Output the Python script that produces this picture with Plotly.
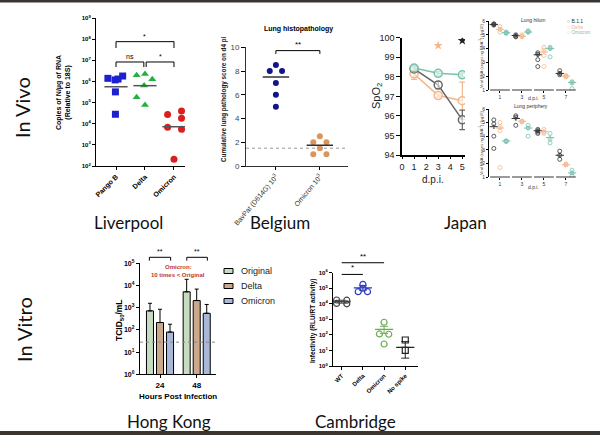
import numpy as np
import plotly.graph_objects as go

W, H = 600, 435

# ---------------- data ----------------
# Liverpool - copies of N/ug RNA (relative to 18S)
liv_categories = ["Pango B", "Delta", "Omicron"]
liv_pango_b = [1.4e6, 1.18e6, 1.3e6, 1.8e6, 3.2e5, 2.8e4]
liv_delta = [1.95e6, 2.24e6, 1.26e6, 6.5e5, 1.78e5, 7.6e4]
liv_omicron = [2.75e4, 4.0e4, 1.8e4, 6.8e3, 5.4e3, 2.1e2]
liv_medians = [5.6e5, 6.3e5, 7.2e3]
liv_pango_b_jitter = [-0.28, -0.03, 0.07, 0.23, -0.02, -0.02]
liv_delta_jitter = [-0.29, 0.0, 0.25, -0.03, -0.29, 0.0]
liv_omicron_jitter = [-0.22, 0.26, 0.26, -0.22, 0.26, 0.0]
liv_tests = [(0, 0.96, 8.3e6, 4.8e6, "ns"), (1.04, 2, 8.3e6, 4.8e6, "*"), (0, 2, 7.6e7, 3.8e7, "*")]

# Belgium - lung histopathology score
bel_categories = ["BavPat (D614G) 10<sup>3</sup>", "Omicron 10<sup>3</sup>"]
bel_bavpat = [8.5, 8, 8, 7, 6, 5]
bel_omicron = [2.5, 2, 2, 1.5, 1, 1]
bel_bavpat_jitter = [0, -0.14, 0.14, 0, 0, 0]
bel_omicron_jitter = [0, -0.15, 0.15, 0, -0.15, 0.15]
bel_medians = [7.5, 1.75]
bel_limit = 1.5
bel_tests = [(0, 1, 9.72, 9.44, "**")]

# Japan - SpO2
jp_days = [1, 3, 5]
jp_spo2_b11 = [98.4, 97.58, 95.8]
jp_spo2_b11_sem = [0.12, 0.18, 0.5]
jp_spo2_delta = [98.15, 97.04, 96.78]
jp_spo2_delta_sem = [0.28, 0.08, 0.95]
jp_spo2_omicron = [98.45, 98.18, 98.1]
jp_spo2_omicron_sem = [0.15, 0.1, 0.1]
jp_spo2_sig_days = [3, 5]
jp_spo2_sig_levels = [99.6, 99.85]

# Japan - viral RNA (log10), days 1,3,5,7
jp_rna_days = ["1", "3", "5", "7"]
jp_variants = ["B.1.1", "Delta", "Omicron"]
jp_hilum_b11 = [[5.8, 5.75, 5.7], [5.0, 4.9, 4.85], [3.7, 3.6, 3.2, 2.7], [2.4, 2.2, 2.1]]
jp_hilum_delta = [[5.6, 5.4, 5.2], [5.0, 4.9, 4.85], [4.1, 3.9, 3.5, 2.7], [2.05, 2.0, 1.95]]
jp_hilum_omicron = [[5.2, 5.15, 5.1], [5.3, 5.2, 5.2], [4.1, 4.0, 3.4], [1.6, 1.5, 1.1]]
jp_hilum_means = [[5.75, 4.95, 3.55, 2.2], [5.4, 4.9, 3.75, 2.0], [5.15, 5.2, 4.0, 1.55]]
jp_periph_b11 = [[5.2, 4.9, 4.0, 3.1], [5.5, 5.4, 4.8], [4.5, 4.4, 4.3, 4.2], [2.9, 2.6, 2.3]]
jp_periph_delta = [[5.0, 4.7, 4.4, 1.7], [5.1, 5.1, 5.05], [4.5, 4.3, 4.2], [1.95, 1.9, 1.9]]
jp_periph_omicron = [[3.65, 3.65, 3.6], [4.8, 4.6, 4.0], [4.2, 3.8, 3.5], [1.5, 1.3, 1.1]]
jp_periph_means = [[4.7, 5.3, 4.4, 2.6], [4.6, 5.1, 4.35, 1.9], [3.65, 4.6, 3.9, 1.3]]

# Hong Kong - TCID50/mL
hk_hours = ["24", "48"]
hk_series = ["Original", "Delta", "Omicron"]
hk_original = [720, 5200]
hk_delta = [215, 2100]
hk_omicron = [80, 560]
hk_original_upper = [1580, 19000]
hk_delta_upper = [850, 6900]
hk_omicron_upper = [180, 1400]
hk_limit = 28
hk_tests = [(-0.29, 0.29, 10**5.27, 10**5.12, "**"), (0.73, 1.29, 10**5.27, 10**5.12, "**")]

# Cambridge - infectivity (RLU/RT activity)
cam_categories = ["WT", "Delta", "Omicron", "No spike"]
cam_wt = [1.75e4, 1.7e4, 1.05e4, 1.0e4]
cam_delta = [1.8e5, 1.0e5, 6.0e4, 6.0e4]
cam_omicron = [6.5e2, 1.15e2, 1.1e2, 2.6e1]
cam_nospike = [4.7e1, 1.0e1]
cam_wt_jitter = [-0.24, 0.24, -0.24, 0.24]
cam_delta_jitter = [0.0, 0.0, -0.22, 0.22]
cam_omicron_jitter = [0.0, -0.22, 0.22, 0.0]
cam_nospike_jitter = [0.0, 0.0]
cam_means = [1.4e4, 1.05e5, 2.3e2, 1.6e1]
cam_err_plus = [3e3, 4e4, 1.3e2, 2.1e1]
cam_err_minus = [3e3, 3e4, 1.05e2, 1.28e1]
cam_tests = [(0, 1, 10**5.89, None, "*"), (0, 2, 10**6.64, None, "**")]

# ---------------- helpers ----------------
AXF = "Liberation Sans, Arial, sans-serif"
BIGF = "Lato, Noto Sans, sans-serif"


def xd(a, b):
    return [a / W, b / W]


def yd(top, bottom):
    return [1 - bottom / H, 1 - top / H]


def px(x):
    return x / W


def py(y):
    return 1 - y / H


def axis(domain, anchor, **kw):
    d = dict(domain=domain, anchor=anchor, showline=True, linecolor="black", linewidth=1,
             ticks="outside", ticklen=3, tickwidth=1, tickcolor="black", automargin=False,
             showgrid=False, zeroline=False, fixedrange=True)
    d.update(kw)
    return d


def logticks(lo, hi):
    return [10 ** k for k in range(lo, hi + 1)], ["10<sup>%d</sup>" % k for k in range(lo, hi + 1)]


fig = go.Figure()
shapes = []
annotations = []


def frac(v, rng, log):
    val = np.log10(v) if log else v
    return (val - rng[0]) / (rng[1] - rng[0])


def add_tests(tests, xa, ya, rng, log, size):
    for x0, x1, top, leg, label in tests:
        t = frac(top, rng, log)
        if leg is None:
            path = f"M {x0},{t} L {x1},{t}"
        else:
            l = frac(leg, rng, log)
            path = f"M {x0},{l} L {x0},{t} L {x1},{t} L {x1},{l}"
        shapes.append(dict(type="path", path=path, xref=xa, yref=ya + " domain",
                           line=dict(color="black", width=1)))
        annotations.append(dict(x=(x0 + x1) / 2, y=t, xref=xa, yref=ya + " domain",
                                text=label, showarrow=False, yanchor="bottom", yshift=0,
                                font=dict(size=size, family=AXF, color="black")))


def text(t, x, y, size, family=AXF, color="black", angle=0, xanchor="center", yanchor="middle"):
    annotations.append(dict(x=px(x), y=py(y), xref="paper", yref="paper", text=t, showarrow=False,
                            textangle=angle, xanchor=xanchor, yanchor=yanchor,
                            font=dict(size=size, family=family, color=color)))


# ---------------- Liverpool ----------------
LIV_YR = [2, 9]
for i, (vals, jit, sym, col) in enumerate([
        (liv_pango_b, liv_pango_b_jitter, "square", "#1c20d0"),
        (liv_delta, liv_delta_jitter, "triangle-up", "#25b040"),
        (liv_omicron, liv_omicron_jitter, "circle", "#d82020")]):
    fig.add_trace(go.Scatter(x=[i + j for j in jit], y=vals, mode="markers", xaxis="x", yaxis="y",
                             marker=dict(symbol=sym, size=7, color=col), showlegend=False))
for i, m in enumerate(liv_medians):
    fig.add_trace(go.Scatter(x=[i - 0.4, i + 0.4], y=[m, m], mode="lines", xaxis="x", yaxis="y",
                             line=dict(color="#555", width=1.5), showlegend=False))
add_tests(liv_tests, "x", "y", LIV_YR, True, 7)

# ---------------- Belgium ----------------
BEL_YR = [0, 10]
BEL_XR = [-0.68, 1.64]
fig.add_trace(go.Scatter(x=BEL_XR, y=[bel_limit, bel_limit], mode="lines", xaxis="x2", yaxis="y2",
                         line=dict(color="#999", width=1, dash="dot"), showlegend=False))
for i, (vals, jit, col) in enumerate([(bel_bavpat, bel_bavpat_jitter, "#14148a"),
                                      (bel_omicron, bel_omicron_jitter, "#d9955a")]):
    fig.add_trace(go.Scatter(x=[i + j for j in jit], y=vals, mode="markers", xaxis="x2", yaxis="y2",
                             marker=dict(size=6, color=col), showlegend=False))
for i, m in enumerate(bel_medians):
    fig.add_trace(go.Scatter(x=[i - 0.3, i + 0.3], y=[m, m], mode="lines", xaxis="x2", yaxis="y2",
                             line=dict(color="#333", width=1.3), showlegend=False))
add_tests(bel_tests, "x2", "y2", BEL_YR, False, 8)

# ---------------- Japan SpO2 ----------------
jp_colors = {"B.1.1": "#666666", "Delta": "#f4b78a", "Omicron": "#79c2ad"}
for name, vals, sem in [("Delta", jp_spo2_delta, jp_spo2_delta_sem),
                        ("B.1.1", jp_spo2_b11, jp_spo2_b11_sem),
                        ("Omicron", jp_spo2_omicron, jp_spo2_omicron_sem)]:
    c = jp_colors[name]
    fig.add_trace(go.Scatter(x=jp_days, y=vals, mode="lines+markers", xaxis="x3", yaxis="y3",
                             line=dict(color=c, width=1.5),
                             marker=dict(symbol="circle", size=8, color="rgba(255,255,255,0.55)",
                                         line=dict(color=c, width=1.5)),
                             error_y=dict(type="data", array=sem, color=c, thickness=1.2, width=3),
                             showlegend=False))
fig.add_trace(go.Scatter(x=jp_spo2_sig_days, y=jp_spo2_sig_levels, mode="markers", xaxis="x3", yaxis="y3",
                         marker=dict(symbol="star", size=7, color=[jp_colors["Delta"], "#222"]),
                         showlegend=False))

# ---------------- Japan viral RNA ----------------
offs = [-0.28, 0.0, 0.28]
for xa, ya, groups, means in [("x4", "y4", [jp_hilum_b11, jp_hilum_delta, jp_hilum_omicron], jp_hilum_means),
                              ("x5", "y5", [jp_periph_b11, jp_periph_delta, jp_periph_omicron], jp_periph_means)]:
    for k, (name, grp) in enumerate(zip(jp_variants, groups)):
        c = "#333333" if name == "B.1.1" else jp_colors[name]
        xs, ys = [], []
        for d, pts in enumerate(grp):
            xs += [d + offs[k]] * len(pts)
            ys += pts
        fig.add_trace(go.Scatter(x=xs, y=ys, mode="markers", xaxis=xa, yaxis=ya,
                                 marker=dict(symbol="circle-open", size=4, color=c, line=dict(width=0.8)),
                                 showlegend=False))
        fig.add_trace(go.Scatter(x=[d + offs[k] for d in range(4)], y=means[k], mode="markers",
                                 xaxis=xa, yaxis=ya,
                                 marker=dict(symbol="line-ew", size=6, color=c, line=dict(width=1, color=c)),
                                 error_y=dict(type="data", array=[0.12] * 4, color=c, thickness=0.7, width=1),
                                 showlegend=False))
    for d in range(4):
        shapes.append(dict(type="line", xref=xa, yref=ya + " domain", x0=d - 0.45, x1=d + 0.45, y0=0, y1=0,
                           line=dict(color="black", width=0.8)))

# ---------------- Hong Kong ----------------
HK_YR = [0, 5]
HK_XR = [-0.545, 1.526]
hk_colors = ["#c6dcc0", "#cba98a", "#a9b7d8"]
for name, vals, up, col in zip(hk_series, [hk_original, hk_delta, hk_omicron],
                               [hk_original_upper, hk_delta_upper, hk_omicron_upper], hk_colors):
    fig.add_trace(go.Bar(x=[0, 1], y=vals, name=name, xaxis="x6", yaxis="y6",
                         marker=dict(color=col, line=dict(color="black", width=1)),
                         error_y=dict(type="data", symmetric=False, array=[u - v for u, v in zip(up, vals)],
                                      arrayminus=[0, 0], color="black", thickness=1, width=2),
                         showlegend=False))
fig.add_trace(go.Scatter(x=HK_XR, y=[hk_limit, hk_limit], mode="lines", xaxis="x6", yaxis="y6",
                         line=dict(color="#888", width=1, dash="dot"), showlegend=False))
add_tests(hk_tests, "x6", "y6", HK_YR, True, 7)
for i, (name, col) in enumerate(zip(hk_series, hk_colors)):
    yrow = 271 + 15 * i
    shapes.append(dict(type="rect", xref="paper", yref="paper", x0=px(224), x1=px(233),
                       y0=py(yrow + 2.5), y1=py(yrow - 2.5), fillcolor=col, line=dict(color="black", width=1)))
    text(name, 239, yrow, 9, xanchor="left", color="#222")

# ---------------- Cambridge ----------------
CAM_YR = [0, 6]
for i, (vals, jit, sym, col) in enumerate([
        (cam_wt, cam_wt_jitter, "circle-open", "#444444"),
        (cam_delta, cam_delta_jitter, "circle-open", "#2e38c0"),
        (cam_omicron, cam_omicron_jitter, "circle-open", "#6aae4c"),
        (cam_nospike, cam_nospike_jitter, "square-open", "#222222")]):
    fig.add_trace(go.Scatter(x=[i + j for j in jit], y=vals, mode="markers", xaxis="x7", yaxis="y7",
                             marker=dict(symbol=sym, size=6, color=col, line=dict(width=1.2)),
                             showlegend=False))
    fig.add_trace(go.Scatter(x=[i], y=[cam_means[i]], mode="markers", xaxis="x7", yaxis="y7",
                             marker=dict(symbol="line-ew-open", size=13, color=col, line=dict(width=1.3, color=col)),
                             error_y=dict(type="data", symmetric=False, array=[cam_err_plus[i]],
                                          arrayminus=[cam_err_minus[i]], color=col, thickness=1, width=4),
                             showlegend=False))
add_tests(cam_tests, "x7", "y7", CAM_YR, True, 8)

# ---------------- layout ----------------
ltv, ltt = logticks(2, 9)
htv, htt = logticks(0, 5)
ctv, ctt = logticks(0, 6)
small_b = dict(size=6, family=AXF, color="black", weight="bold")
fig.update_layout(
    template="none",
    width=W, height=H, margin=dict(l=0, r=0, t=0, b=0, pad=0), autosize=False,
    paper_bgcolor="white", plot_bgcolor="rgba(0,0,0,0)", showlegend=False,
    barmode="group", bargap=0.18, bargroupgap=0.3,
    xaxis=axis(xd(96, 185), "y", range=[-0.69, 2.38], tickvals=[0, 1, 2],
               ticktext=["<b>%s</b>" % c for c in liv_categories], tickangle=-45,
               tickfont=dict(size=7, family=AXF, color="black")),
    yaxis=axis(yd(18, 166), "x", type="log", range=LIV_YR, tickvals=ltv, ticktext=ltt, tickfont=small_b),
    xaxis2=axis(xd(246, 348), "y2", range=BEL_XR, tickvals=[0, 1], ticktext=bel_categories, tickangle=-50,
                tickfont=dict(size=7, family=AXF, color="#333"), linecolor="#333"),
    yaxis2=axis(yd(47.3, 166), "x2", range=BEL_YR, dtick=2, tickfont=dict(size=8, family=AXF, color="#444"),
                linecolor="#333", ticklen=4),
    xaxis3=axis(xd(402, 465), "y3", range=[0, 5.22], dtick=1, linewidth=1.5, ticklen=2,
                tickfont=dict(size=9, family=AXF, color="#222")),
    yaxis3=axis(yd(37.7, 155), "x3", range=[94, 100], dtick=1, linewidth=1.5, ticklen=4,
                tickfont=dict(size=9, family=AXF, color="#222")),
    xaxis4=axis(xd(489, 578), "y4", range=[-0.5, 3.55], tickvals=[0, 1, 2, 3], ticktext=jp_rna_days,
                showline=False, ticklen=2, tickwidth=0.8, tickfont=dict(size=5, family=AXF, color="#333")),
    yaxis4=axis(yd(21, 90), "x4", range=[1, 6], dtick=1, linewidth=0.8, ticklen=2, tickwidth=0.8,
                tickfont=dict(size=5, family=AXF, color="#333")),
    xaxis5=axis(xd(489, 578), "y5", range=[-0.5, 3.55], tickvals=[0, 1, 2, 3], ticktext=jp_rna_days,
                showline=False, ticklen=2, tickwidth=0.8, tickfont=dict(size=5, family=AXF, color="#333")),
    yaxis5=axis(yd(109, 177), "x5", range=[1, 6], dtick=1, linewidth=0.8, ticklen=2, tickwidth=0.8,
                tickfont=dict(size=5, family=AXF, color="#333")),
    xaxis6=axis(xd(140, 216), "y6", range=HK_XR, tickvals=[0, 1], ticktext=["<b>%s</b>" % h for h in hk_hours],
                tickfont=dict(size=8, family=AXF, color="black"), linewidth=1.2),
    yaxis6=axis(yd(263.3, 374.3), "x6", type="log", range=HK_YR, tickvals=htv, ticktext=htt,
                tickfont=dict(size=7, family=AXF, color="black", weight="bold"), linewidth=1.2),
    xaxis7=axis(xd(333, 418), "y7", range=[-0.41, 3.6], tickvals=[0, 1, 2, 3],
                ticktext=["<b>%s</b>" % c for c in cam_categories], tickangle=-45,
                tickfont=dict(size=6, family=AXF, color="black")),
    yaxis7=axis(yd(272.7, 366), "x7", type="log", range=CAM_YR, tickvals=ctv, ticktext=ctt, tickfont=small_b),
)

# axis titles and panel labels
text("<b>Copies of N/μg of RNA<br>(Relative to 18S)</b>", 64, 93, 7, angle=-90)
text("<b>Lung histopathology</b>", 298, 29, 7)
text("<b>Cumulative lung pathology score on d4 pi</b>", 224, 99, 6.3, angle=-90, color="#222")
text("SpO<sub>2</sub>", 377, 96, 11, angle=-90, color="#222")
text("d.p.i.", 433, 179, 10, color="#222")
text("Lung hilum", 533, 20, 5, color="#333")
text("Lung periphery", 531, 106, 5, color="#333")
text("Viral RNA (copies ng RNA<sup>-1</sup>) (log10)", 481, 56, 4, angle=-90, color="#333")
text("Viral RNA (copies ng RNA<sup>-1</sup>) (log10)", 481, 143, 4, angle=-90, color="#333")
text("d.p.i.", 533, 98, 5, color="#333")
text("d.p.i.", 533, 187, 5, color="#333")
for i, name in enumerate(jp_variants):
    c = "#333333" if name == "B.1.1" else jp_colors[name]
    text("○ " + name, 565, 21 + 5.5 * i, 5, color=c, xanchor="left")
text("<b>TCID<sub>50</sub>/mL</b>", 119, 320, 8.5, angle=-90)
text("<b>Hours Post Infection</b>", 178, 396, 8)
text("<b>Omicron:</b>", 178, 266.5, 6, color="#c0392b")
text("<b>10 times &lt; Original</b>", 178, 274.5, 6, color="#c0392b")
text("<b>Infectivity (RLU/RT activity)</b>", 313, 320, 6.5, angle=-90)

text("In Vivo", 22, 108, 20, family=BIGF, angle=-90, color="#111")
text("In Vitro", 24, 330, 20, family=BIGF, angle=-90, color="#111")
text("Liverpool", 128, 222, 17, family=BIGF, color="#111")
text("Belgium", 280, 222, 17, family=BIGF, color="#111")
text("Japan", 465, 222, 17, family=BIGF, color="#111")
text("Hong Kong", 169, 421, 17, family=BIGF, color="#111")
text("Cambridge", 355, 421, 17, family=BIGF, color="#111")

# dark frame strips at top and bottom
shapes.append(dict(type="rect", xref="paper", yref="paper", x0=0, x1=1, y0=py(2.5), y1=1,
                   fillcolor="#3b3531", line=dict(width=0)))
shapes.append(dict(type="rect", xref="paper", yref="paper", x0=0, x1=1, y0=0, y1=py(431),
                   fillcolor="#3b3531", line=dict(width=0)))

fig.update_layout(shapes=shapes, annotations=annotations)
fig.write_html("out.html", config={"displayModeBar": False},
               post_script="document.body.style.margin='0px';document.body.style.overflow='hidden';")
